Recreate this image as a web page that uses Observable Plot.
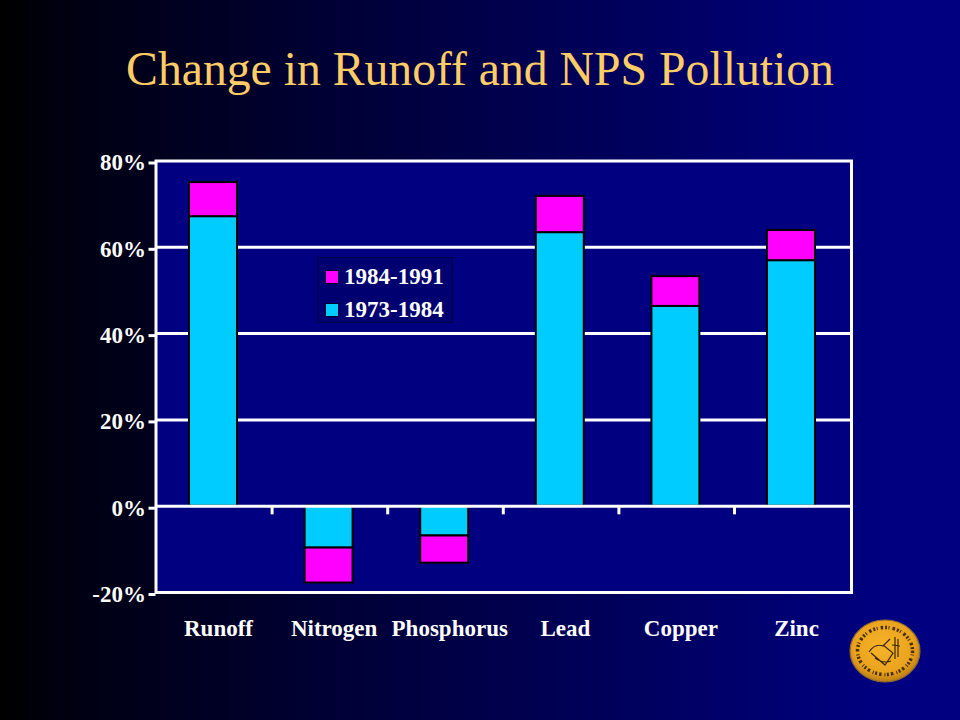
<!DOCTYPE html>
<html>
<head>
<meta charset="utf-8">
<script src="https://cdn.jsdelivr.net/npm/d3@7"></script>
<script src="https://cdn.jsdelivr.net/npm/@observablehq/plot@0.6"></script>
<style>
html,body{margin:0;padding:0;width:960px;height:720px;overflow:hidden;background:linear-gradient(90deg,#000 0%,#000010 6%,#000080 92%,#000080 100%);}
#wrap{position:relative;width:960px;height:720px;font-family:"Liberation Serif",serif;}
#title{height:110px;line-height:137px;text-align:center;color:#ffcc66;font-size:47.7px;font-weight:400;white-space:nowrap;}
#chart svg{display:block;}
#legend{position:absolute;left:317px;top:257px;width:134px;height:64px;background:#000070;border:1.5px solid #000044;color:#fff;font-size:23px;font-weight:700;}
.row{position:absolute;left:7px;display:flex;align-items:center;height:20px;}
.sw{width:14px;height:14px;border:1.5px solid #000030;margin-right:5px;box-sizing:border-box;}
#seal{position:absolute;left:845px;top:615px;}
</style>
</head>
<body>
<div id="wrap">
<div id="title">Change in Runoff and NPS Pollution</div>
<div id="chart"></div>
<div id="legend"></div>
<svg id="seal" width="80" height="72" viewBox="0 0 80 72">
<defs><radialGradient id="gold" cx="48%" cy="42%" r="58%"><stop offset="0%" stop-color="#f6b42a"/><stop offset="75%" stop-color="#eaa21e"/><stop offset="100%" stop-color="#b87a12"/></radialGradient></defs>
<ellipse cx="40" cy="36" rx="35" ry="31" fill="url(#gold)" stroke="#8a6a30" stroke-width="1.2"/>
<ellipse cx="40" cy="36" rx="27.5" ry="23.5" fill="none" stroke="#4a3008" stroke-width="3.5" stroke-dasharray="2 1.5 1 3 2.5 2"/>
<path d="M24 37 Q30 28 38 31 L45 24 M26 38 L40 50 L48 38 L38 30 M30 43 Q38 49 46 46 M50 22 L50 44 M53 24 L53 42 M47 30 L55 31" fill="none" stroke="#3c2808" stroke-width="1.2"/>
</svg>
</div>
<script>
const categories = ["Runoff","Nitrogen","Phosphorus","Lead","Copper","Zinc"];
const periods = ["1973-1984","1984-1991"];
const change7384 = [67.1,-9.7,-6.9,63.4,46.3,56.9];
const change8491 = [7.9,-8.1,-6.3,8.4,6.9,7.0];
const yTicks = [-20,0,20,40,60,80];
const gridValues = [20,40,60];
const colors = ["#00ccff","#ff00ff"];

const rows = [
  ...categories.map((c,i)=>({category:c,period:periods[0],value:change7384[i]})),
  ...categories.map((c,i)=>({category:c,period:periods[1],value:change8491[i]}))
];

const white = "#fff";
const plot = Plot.plot({
  width:960, height:610,
  marginTop:50.5, marginBottom:128, marginLeft:155.5, marginRight:109,
  style:{background:"transparent",fontFamily:"'Liberation Serif',serif",fontSize:"23px",fontWeight:700,color:white,overflow:"visible"},
  x:{domain:categories,range:[155.2,848.8],round:false,paddingInner:0.585,paddingOuter:0.2925,label:null},
  y:{domain:[-20,80],label:null},
  color:{domain:periods,range:colors},
  marks:[
    Plot.frame({fill:"#000080"}),
    Plot.ruleY(gridValues,{stroke:white,strokeWidth:3}),
    Plot.barY(rows,{x:"category",y:"value",fill:"period",stroke:"#000",strokeWidth:2,order:periods}),
    Plot.ruleY([0],{stroke:white,strokeWidth:3}),
    Plot.ruleX(categories.slice(1),{x:d=>d,y1:0,y2:-2,dx:-57,stroke:white,strokeWidth:3}),
    Plot.frame({stroke:white,strokeWidth:3}),
    Plot.axisY({ticks:yTicks,tickSize:7,tickPadding:3,strokeWidth:3,stroke:white,fill:white,tickFormat:d=>d+"%",label:null,fontSize:23,dy:2,textStroke:null}),
    Plot.axisX({tickSize:0,tickPadding:27,dx:5,fill:white,label:null,fontSize:23})
  ]
});
document.getElementById("chart").appendChild(plot);

const legend = document.getElementById("legend");
[[periods[1],colors[1],9],[periods[0],colors[0],42]].forEach(([t,c,top])=>{
  const r=document.createElement("div");r.className="row";r.style.top=top+"px";
  const s=document.createElement("div");s.className="sw";s.style.background=c;
  const l=document.createElement("span");l.textContent=t;
  r.append(s,l);legend.append(r);
});
</script>
</body>
</html>
